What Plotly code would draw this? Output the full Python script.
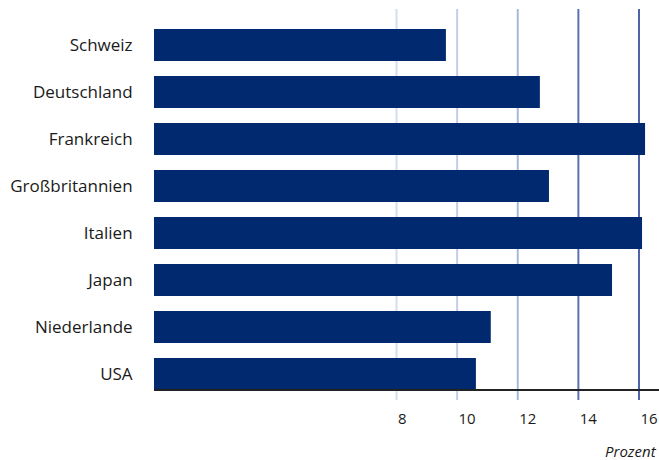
import plotly.graph_objects as go

countries = ["Schweiz", "Deutschland", "Frankreich", "Großbritannien",
             "Italien", "Japan", "Niederlande", "USA"]
values = [9.63, 12.73, 16.2, 13.03, 16.1, 15.11, 11.11, 10.62]
tick_vals = [8, 10, 12, 14, 16]
tick_text = ["8\u2007", "10", "12", "14", "16"]
grid_colors = ["#d6ddee", "#c4cde6", "#a8b8da", "#5a72b2", "#4d64a8"]

FONT = "Open Sans"
TEXT = "#1a1a1a"
BAR = "#00296f"

fig = go.Figure()
fig.add_trace(go.Bar(
    y=countries, x=values, orientation="h",
    marker=dict(color=BAR, line=dict(width=0)),
    width=0.68, hoverinfo="skip",
))

for v, c in zip(tick_vals, grid_colors):
    fig.add_shape(type="line", xref="x", yref="paper",
                  x0=v, x1=v, y0=-0.029, y1=1,
                  line=dict(color=c, width=2), layer="below")

fig.add_annotation(text="<i>Prozent</i>", xref="paper", yref="paper",
                   x=1, y=-0.164, xanchor="right", yanchor="middle",
                   showarrow=False, font=dict(family=FONT, size=15, color=TEXT))

fig.update_layout(
    width=659, height=460,
    margin=dict(l=154, r=0, t=9, b=70.5),
    paper_bgcolor="white", plot_bgcolor="white",
    showlegend=False,
    font=dict(family=FONT, size=16, color=TEXT),
    bargap=0.32,
)
fig.update_xaxes(
    range=[0, 16.66], tickvals=tick_vals, ticktext=tick_text,
    showgrid=False, zeroline=False,
    showline=True, linecolor="#222222", linewidth=1.5,
    ticks="outside", ticklen=15, tickcolor="rgba(0,0,0,0)",
    ticklabelshift=10,
    tickfont=dict(family=FONT, size=15, color=TEXT),
)
fig.update_yaxes(
    categoryorder="array", categoryarray=countries,
    range=[7.32, -0.765], showgrid=False, zeroline=False, showline=False,
    ticks="outside", ticklen=17, tickcolor="rgba(0,0,0,0)",
    tickfont=dict(family=FONT, size=17, color=TEXT),
)

fig.write_html("out.html", config={"displayModeBar": False},
               post_script="document.body.style.margin='0';document.body.style.overflow='hidden';")
